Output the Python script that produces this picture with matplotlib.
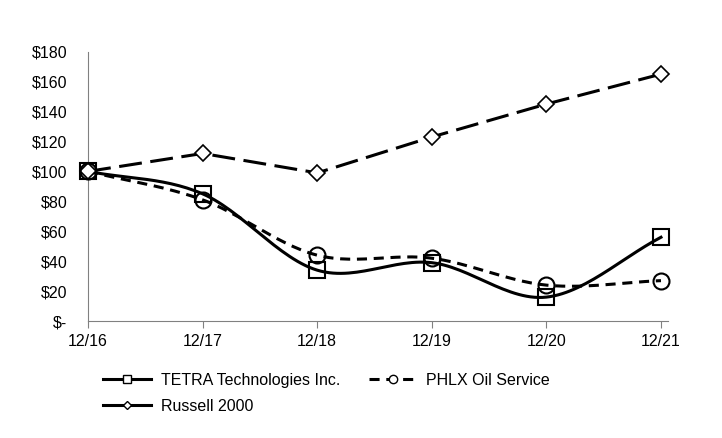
import numpy as np
import matplotlib
matplotlib.use('Agg')
import matplotlib.pyplot as plt
from matplotlib.lines import Line2D

plt.rcParams['font.family'] = ['Liberation Sans', 'DejaVu Sans']

years = ['12/16', '12/17', '12/18', '12/19', '12/20', '12/21']
tetra = [100, 85, 34, 39, 16, 56]
phlx = [100, 81, 44, 42, 24, 27]
russell = [100, 112, 99, 123, 145, 165]
y_ticks = [0, 20, 40, 60, 80, 100, 120, 140, 160, 180]
y_labels = ['$-', '$20', '$40', '$60', '$80', '$100', '$120', '$140', '$160', '$180']


def smooth(vals, n=30):
    # catmull-rom through the points, like excel's "smoothed line"
    p = np.array(vals, dtype=float)
    x = np.arange(len(p), dtype=float)
    px = np.concatenate([[2 * x[0] - x[1]], x, [2 * x[-1] - x[-2]]])
    py = np.concatenate([[2 * p[0] - p[1]], p, [2 * p[-1] - p[-2]]])
    xs, ys = [], []
    t = np.linspace(0, 1, n)
    for i in range(1, len(px) - 2):
        for arr, out in ((px, xs), (py, ys)):
            p0, p1, p2, p3 = arr[i - 1], arr[i], arr[i + 1], arr[i + 2]
            out.extend(0.5 * ((2 * p1) + (-p0 + p2) * t + (2 * p0 - 5 * p1 + 4 * p2 - p3) * t ** 2
                              + (-p0 + 3 * p1 - 3 * p2 + p3) * t ** 3))
    return xs, ys


fig = plt.figure(figsize=(7.22, 4.38), dpi=100)
ax = fig.add_axes([0.122, 0.267, 0.803, 0.615])

x = np.arange(len(years))

# russell 2000 - long dashes, straight
ax.plot(x, russell, color='black', lw=2.2, dashes=(7.5, 2.8), marker='D', ms=8,
        mfc='white', mec='black', mew=1.2, zorder=3, clip_on=False)

# phlx - short dashes, smoothed
sx, sy = smooth(phlx)
ax.plot(sx, sy, color='black', lw=2.2, dashes=(3.3, 2.2), zorder=2, clip_on=False)
ax.plot(x, phlx, ls='none', marker='o', ms=11.5, mfc='none', mec='black', mew=1.5, zorder=4,
        clip_on=False)

# tetra - solid, smoothed
sx, sy = smooth(tetra)
ax.plot(sx, sy, color='black', lw=2.2, zorder=2, clip_on=False)
ax.plot(x, tetra, ls='none', marker='s', ms=12, mfc='none', mec='black', mew=1.5, zorder=4,
        clip_on=False)

ax.set_xlim(0, 5.06)
ax.set_ylim(0, 180)
ax.set_yticks(y_ticks)
ax.set_yticklabels(y_labels)
ax.set_xticks(x)
ax.set_xticklabels(years)
ax.tick_params(axis='y', length=0, labelsize=11.5, pad=15)
ax.tick_params(axis='x', length=5, color='#808080', labelsize=11.5, pad=4)

for s in ['top', 'right']:
    ax.spines[s].set_visible(False)
ax.spines['left'].set_color('#808080')
ax.spines['bottom'].set_color('#808080')

handles = [
    Line2D([], [], color='black', lw=2.2, marker='s', ms=6, mfc='white', mec='black'),
    Line2D([], [], color='black', lw=2.2, marker='D', ms=4.5, mfc='white', mec='black'),
    Line2D([], [], color='black', lw=2.2, dashes=(3.3, 2.2), marker='o', ms=6, mfc='white', mec='black'),
]
labels = ['TETRA Technologies Inc.', 'Russell 2000', 'PHLX Oil Service']
fig.legend(handles, labels, loc='upper left', bbox_to_anchor=(0.123, 0.182), ncol=2,
           frameon=False, fontsize=11.5, handlelength=3.0, columnspacing=1.8,
           handletextpad=0.6, labelspacing=0.7)

fig.savefig('out.png', dpi=100)
